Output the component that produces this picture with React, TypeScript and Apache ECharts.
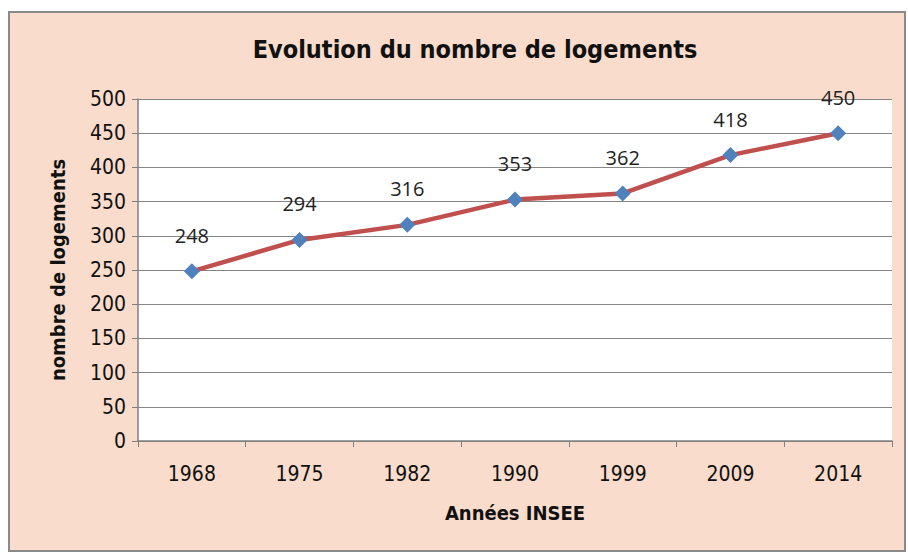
import React, { useEffect, useRef } from "react";
import * as echarts from "echarts";

const categories = ["1968", "1975", "1982", "1990", "1999", "2009", "2014"];
const values = [248, 294, 316, 353, 362, 418, 450];
const yTicks = [0, 50, 100, 150, 200, 250, 300, 350, 400, 450, 500];

const FONT = "'Liberation Sans Narrow', 'DejaVu Sans Condensed', 'Open Sans', sans-serif";

export default function App() {
  const ref = useRef<HTMLDivElement>(null);
  useEffect(() => {
    const chart = echarts.init(ref.current!, null, { renderer: "svg" });
    chart.setOption({
      animation: false,
      backgroundColor: "#ffffff",
      graphic: [
        {
          type: "rect",
          z: -10,
          shape: { x: 9, y: 12, width: 896, height: 539 },
          style: { fill: "#f9dccb", stroke: "#8a8a8a", lineWidth: 2 },
        },
      ],
      title: {
        text: "Evolution du nombre de logements",
        left: 470,
        textAlign: "center",
        top: 32,
        textStyle: { fontFamily: FONT, fontSize: 25, fontWeight: "bold", color: "#111111" },
      },
      grid: { left: 138, right: 16, top: 99, bottom: 115, show: true, backgroundColor: "#ffffff", borderWidth: 0 },
      xAxis: {
        type: "category",
        data: categories,
        boundaryGap: true,
        name: "Années INSEE",
        nameLocation: "middle",
        nameGap: 62,
        nameTextStyle: { fontFamily: FONT, fontSize: 20, fontWeight: "bold", color: "#111111" },
        axisLine: { lineStyle: { color: "#808080", width: 1.5 } },
        axisTick: { show: true, length: 6, lineStyle: { color: "#808080" } },
        axisLabel: { fontFamily: FONT, fontSize: 21, color: "#111111", margin: 22 },
      },
      yAxis: {
        type: "value",
        min: 0,
        max: 500,
        interval: 50,
        name: "nombre de logements",
        nameLocation: "middle",
        nameGap: 70,
        nameTextStyle: { fontFamily: FONT, fontSize: 20, fontWeight: "bold", color: "#111111" },
        axisLine: { show: true, lineStyle: { color: "#808080", width: 1.5 } },
        axisTick: { show: true, length: 6, lineStyle: { color: "#808080" } },
        axisLabel: {
          fontFamily: FONT,
          fontSize: 21,
          color: "#111111",
          margin: 12,
          formatter: (v: number) => (yTicks.includes(v) ? String(v) : ""),
        },
        splitLine: { lineStyle: { color: "#858585", width: 1.2 } },
      },
      series: [
        {
          type: "line",
          data: values,
          lineStyle: { color: "#c0504d", width: 4.5 },
          symbol: "diamond",
          symbolSize: 16,
          itemStyle: { color: "#4f81bd" },
          label: {
            show: true,
            position: "top",
            distance: 18,
            fontFamily: "'Open Sans', sans-serif",
            fontSize: 20,
            color: "#222222",
          },
        },
      ],
    });
    return () => chart.dispose();
  }, []);
  return (
    <div
      ref={ref}
      style={{ position: "fixed", left: 0, top: 0, width: 908, height: 556 }}
    />
  );
}
